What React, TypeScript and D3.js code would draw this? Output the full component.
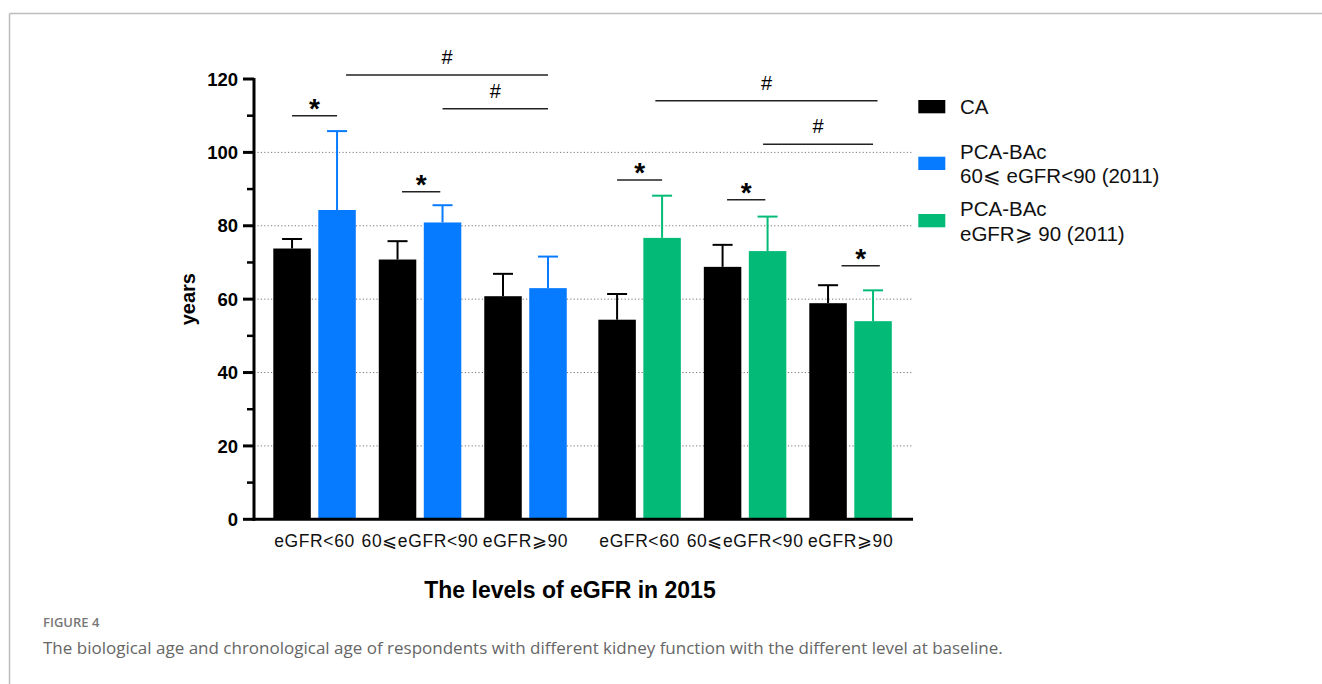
import React from 'react';
import * as d3 from 'd3';

// data
const groups = ['eGFR<60', '60⩽eGFR<90', 'eGFR⩾90', 'eGFR<60', '60⩽eGFR<90', 'eGFR⩾90'];
const caMean = [73.8, 70.8, 60.8, 54.4, 68.8, 58.9];
const caSd = [2.6, 5.0, 6.1, 7.0, 6.0, 4.9];
const pcaMean = [84.3, 80.9, 63.0, 76.7, 73.1, 54.0];
const pcaSd = [21.5, 4.7, 8.6, 11.5, 9.4, 8.4];
const yTicks = [0, 20, 40, 60, 80, 100, 120];
const yMinor = [10, 30, 50, 70, 90, 110];
const gridVals = [20, 40, 60, 80, 100];

// significance brackets: from/to = [group, series(0 CA, 1 PCA)], level in years
const brackets = [
  { from: [0, 0], to: [0, 1], level: 110, sym: '*' },
  { from: [1, 0.1], to: [1, 0.95], level: 89.3, sym: '*' },
  { from: [0, 1.2], to: [2, 1], level: 121.1, sym: '#' },
  { from: [1, 1], to: [2, 1], level: 111.9, sym: '#' },
  { from: [3, 0], to: [3, 1], level: 92.5, sym: '*' },
  { from: [4, 0.1], to: [4, 0.95], level: 87.1, sym: '*' },
  { from: [5, 0.3], to: [5, 1.15], level: 69.1, sym: '*' },
  { from: [3, 0.85], to: [5, 1.1], level: 114.1, sym: '#' },
  { from: [4, 0.9], to: [5, 1], level: 102.2, sym: '#' },
];

const legendItems = [
  { color: '#000000', lines: ['CA'] },
  { color: '#077BFF', lines: ['PCA-BAc', '60⩽ eGFR<90 (2011)'] },
  { color: '#03BB77', lines: ['PCA-BAc', 'eGFR⩾ 90 (2011)'] },
];

const W = 1322;
const H = 684;
const plotLeft = 254;
const plotRight = 913;
const font = 'Liberation Sans, Arial, sans-serif';
const barW = 37.5;
const barGap = 7.5;
const clusterGap = 8.6;

const App = () => {
  const y = d3.scaleLinear().domain([0, 120]).range([519.3, 79]);
  const xs = d3.scaleLinear().domain([0, 5]).range([273.3, 809.3 - clusterGap]);
  const groupX = (i: number) => xs(i) + (i >= 3 ? clusterGap : 0);
  const barX = (i: number, s: number) => groupX(i) + s * (barW + barGap);
  const barC = (i: number, s: number) => barX(i, s) + barW / 2;
  const pcaColor = (i: number) => (i < 3 ? legendItems[1].color : legendItems[2].color);

  return (
    <svg width={W} height={H} style={{ position: 'absolute', left: 0, top: 0, background: '#fff' }}>
      {/* frame */}
      <line x1={9.5} y1={13.5} x2={W} y2={13.5} stroke="#bdbdbd" strokeWidth={1.5} />
      <line x1={9.5} y1={13.5} x2={9.5} y2={H} stroke="#bdbdbd" strokeWidth={1.5} />

      {/* grid */}
      {gridVals.map(v => (
        <line key={v} x1={plotLeft} x2={plotRight - 1} y1={y(v)} y2={y(v)}
          stroke="#777" strokeWidth={1} strokeDasharray="1.2 2.2" />
      ))}

      {/* bars */}
      {groups.map((g, i) => (
        <g key={i}>
          <rect x={barX(i, 0)} y={y(caMean[i])} width={barW} height={y(0) - y(caMean[i])} fill="#000" />
          <line x1={barC(i, 0)} x2={barC(i, 0)} y1={y(caMean[i])} y2={y(caMean[i] + caSd[i])} stroke="#000" strokeWidth={2} />
          <line x1={barC(i, 0) - 10} x2={barC(i, 0) + 10} y1={y(caMean[i] + caSd[i])} y2={y(caMean[i] + caSd[i])} stroke="#000" strokeWidth={2} />
          <rect x={barX(i, 1)} y={y(pcaMean[i])} width={barW} height={y(0) - y(pcaMean[i])} fill={pcaColor(i)} />
          <line x1={barC(i, 1)} x2={barC(i, 1)} y1={y(pcaMean[i])} y2={y(pcaMean[i] + pcaSd[i])} stroke={pcaColor(i)} strokeWidth={2} />
          <line x1={barC(i, 1) - 10} x2={barC(i, 1) + 10} y1={y(pcaMean[i] + pcaSd[i])} y2={y(pcaMean[i] + pcaSd[i])} stroke={pcaColor(i)} strokeWidth={2} />
          <text x={(barX(i, 0) + barX(i, 1) + barW) / 2} y={547} textAnchor="middle"
            fontFamily={font} fontSize={17.5} letterSpacing={0.6} fill="#111">{g}</text>
        </g>
      ))}

      {/* axes */}
      <line x1={plotLeft} x2={plotLeft} y1={y(120) - 1} y2={y(0) + 1.5} stroke="#000" strokeWidth={3} />
      <line x1={plotLeft - 1.5} x2={plotRight} y1={y(0)} y2={y(0)} stroke="#000" strokeWidth={3} />
      {yTicks.map(t => (
        <g key={t}>
          <line x1={plotLeft - 11} x2={plotLeft} y1={y(t)} y2={y(t)} stroke="#000" strokeWidth={3} />
          <text x={238} y={y(t)} dy="0.36em" textAnchor="end" fontFamily={font}
            fontWeight="bold" fontSize={18.5}>{t}</text>
        </g>
      ))}
      {yMinor.map(t => (
        <line key={t} x1={plotLeft - 7} x2={plotLeft} y1={y(t)} y2={y(t)} stroke="#000" strokeWidth={2.5} />
      ))}
      <text transform={`translate(195,${y(60)}) rotate(-90)`} textAnchor="middle"
        fontFamily={font} fontWeight="bold" fontSize={20}>years</text>
      <text x={570} y={598} textAnchor="middle" fontFamily={font} fontWeight="bold" fontSize={23}>
        The levels of eGFR in 2015
      </text>

      {/* significance */}
      {brackets.map((b, k) => {
        const x1 = barC(b.from[0], 0) + b.from[1] * (barW + barGap);
        const x2 = barC(b.to[0], 0) + b.to[1] * (barW + barGap);
        const ly = y(b.level);
        return (
          <g key={k}>
            <line x1={x1} x2={x2} y1={ly} y2={ly} stroke="#222" strokeWidth={1.5} />
            {b.sym === '*' ? (
              <text x={(x1 + x2) / 2} y={ly + 2} textAnchor="middle" fontFamily={font}
                fontWeight="bold" fontSize={28}>*</text>
            ) : (
              <text x={(x1 + x2) / 2} y={ly - 11} textAnchor="middle" fontFamily={font}
                fontSize={20}>#</text>
            )}
          </g>
        );
      })}

      {/* legend */}
      {legendItems.map((it, k) => {
        const top = [100, 156.7, 214][k];
        return (
          <g key={k}>
            <rect x={918.3} y={top} width={27} height={13.3} fill={it.color} />
            {it.lines.map((ln, j) => (
              <text key={j} x={960} y={it.lines.length === 1 ? top + 14 : top + 2 + j * 24.5}
                fontFamily={font} fontSize={20.5} fill="#111">{ln}</text>
            ))}
          </g>
        );
      })}

      {/* caption */}
      <text x={43} y={627} fontFamily="Open Sans, sans-serif" fontSize={13} fontWeight={600} fill="#777">FIGURE 4</text>
      <text x={43} y={654} fontFamily="Open Sans, sans-serif" fontSize={17} fill="#666">
        The biological age and chronological age of respondents with different kidney function with the different level at baseline.
      </text>
    </svg>
  );
};

export default App;
